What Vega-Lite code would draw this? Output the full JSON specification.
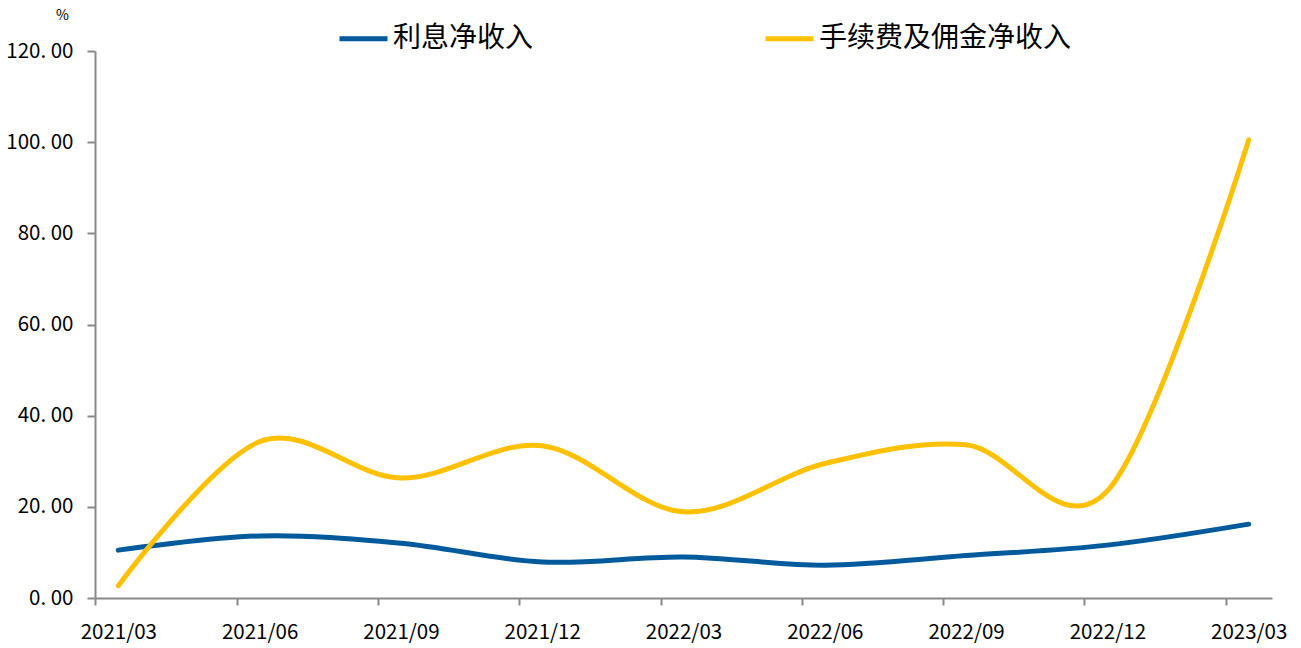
{
  "$schema": "https://vega.github.io/schema/vega-lite/v6.json",
  "width": 1177,
  "height": 547,
  "autosize": {"type": "none"},
  "padding": {"left": 95, "top": 51, "right": 29, "bottom": 50},
  "background": "white",
  "config": {
    "view": {"stroke": null},
    "font": "Noto Sans CJK SC",
    "axis": {"labelFont": "Noto Sans CJK SC", "titleFont": "Noto Sans CJK SC"}
  },
  "data": {
    "values": [
      {"date": "2021/03", "series": "利息净收入", "value": 10.5},
      {"date": "2021/06", "series": "利息净收入", "value": 13.6},
      {"date": "2021/09", "series": "利息净收入", "value": 12.0},
      {"date": "2021/12", "series": "利息净收入", "value": 7.9},
      {"date": "2022/03", "series": "利息净收入", "value": 9.0},
      {"date": "2022/06", "series": "利息净收入", "value": 7.2},
      {"date": "2022/09", "series": "利息净收入", "value": 9.3},
      {"date": "2022/12", "series": "利息净收入", "value": 11.6},
      {"date": "2023/03", "series": "利息净收入", "value": 16.2},
      {"date": "2021/03", "series": "手续费及佣金净收入", "value": 2.7},
      {"date": "2021/06", "series": "手续费及佣金净收入", "value": 34.3},
      {"date": "2021/09", "series": "手续费及佣金净收入", "value": 26.3},
      {"date": "2021/12", "series": "手续费及佣金净收入", "value": 33.4},
      {"date": "2022/03", "series": "手续费及佣金净收入", "value": 18.9},
      {"date": "2022/06", "series": "手续费及佣金净收入", "value": 29.5},
      {"date": "2022/09", "series": "手续费及佣金净收入", "value": 33.6},
      {"date": "2022/12", "series": "手续费及佣金净收入", "value": 23.5},
      {"date": "2023/03", "series": "手续费及佣金净收入", "value": 100.5}
    ]
  },
  "mark": {"type": "line", "interpolate": "cardinal", "tension": 0, "strokeWidth": 5, "strokeCap": "round"},
  "encoding": {
    "x": {
      "field": "date",
      "type": "ordinal",
      "sort": null,
      "scale": {"type": "point", "padding": 0.165},
      "axis": {
        "title": null,
        "labelAngle": 0,
        "labelFontSize": 20.5,
        "labelColor": "#000000",
        "labelPadding": 17,
        "tickOffset": -23,
        "labelOffset": 23,
        "tickSize": 7,
        "tickColor": "#898989",
        "domainColor": "#898989",
        "domainWidth": 2,
        "tickWidth": 2,
        "grid": false
      }
    },
    "y": {
      "field": "value",
      "type": "quantitative",
      "scale": {"domain": [0, 120], "nice": false},
      "axis": {
        "values": [0, 20, 40, 60, 80, 100, 120],
        "labelExpr": "replace(format(datum.value, '.2f'), '.', '. ')",
        "labelFontSize": 20.5,
        "labelColor": "#000000",
        "labelPadding": 14,
        "tickSize": 8,
        "tickColor": "#898989",
        "domainColor": "#898989",
        "domainWidth": 2,
        "tickWidth": 2,
        "grid": false,
        "title": "%",
        "titleAngle": 0,
        "titleX": -33,
        "titleY": -36,
        "titleAlign": "center",
        "titleBaseline": "middle",
        "titleFontSize": 14,
        "titleFontWeight": "normal",
        "titleColor": "#000000"
      }
    },
    "color": {
      "field": "series",
      "type": "nominal",
      "sort": ["利息净收入", "手续费及佣金净收入"],
      "scale": {"domain": ["利息净收入", "手续费及佣金净收入"], "range": ["#005A9C", "#FFC000"]},
      "legend": {
        "title": null,
        "orient": "none",
        "direction": "horizontal",
        "legendX": 242,
        "legendY": -39,
        "symbolType": "stroke",
        "symbolSize": 2304,
        "symbolStrokeWidth": 5,
        "labelFontSize": 28,
        "labelColor": "#000000",
        "labelOffset": 3,
        "labelLimit": 400,
        "columnPadding": 221
      }
    }
  }
}
